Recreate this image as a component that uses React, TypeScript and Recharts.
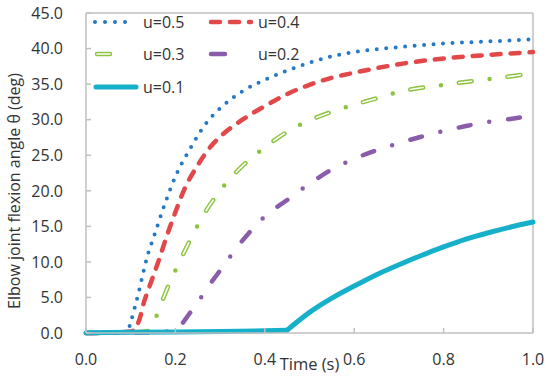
import { LineChart, Line, XAxis, YAxis, ReferenceLine } from 'recharts'

// time axis (s) and elbow angle (deg) per u value
const timeU05 = [0, 0.05, 0.09, 0.095, 0.1, 0.11, 0.12, 0.13, 0.14, 0.15, 0.17, 0.2, 0.23, 0.27, 0.3, 0.35, 0.4, 0.45, 0.5, 0.55, 0.6, 0.7, 0.8, 0.9, 1.0]
const angleU05 = [0, 0.05, 0.1, 0.5, 1.5, 3.8, 6.3, 9, 11.4, 13.2, 17, 22, 25.6, 29.6, 31.6, 34, 35.6, 36.9, 38, 38.9, 39.5, 40.2, 40.7, 41.0, 41.3]

const timeU04 = [0, 0.05, 0.1, 0.11, 0.12, 0.13, 0.14, 0.16, 0.18, 0.2, 0.22, 0.25, 0.28, 0.3, 0.35, 0.4, 0.45, 0.5, 0.55, 0.6, 0.7, 0.8, 0.9, 1.0]
const angleU04 = [0, 0.05, 0.2, 0.6, 2, 4.4, 6.2, 9.7, 13.5, 17, 20.2, 23.6, 26.3, 27.6, 30, 31.9, 33.6, 34.9, 35.9, 36.6, 37.8, 38.6, 39.1, 39.5]

const timeU03 = [0, 0.1, 0.14, 0.15, 0.16, 0.18, 0.2, 0.23, 0.26, 0.3, 0.35, 0.4, 0.45, 0.5, 0.55, 0.6, 0.65, 0.7, 0.8, 0.9, 1.0]
const angleU03 = [0, 0.1, 0.3, 1.2, 2.8, 6, 8.8, 12.7, 16.3, 20, 23.5, 26.1, 28.3, 29.9, 31.1, 32.1, 33.0, 33.9, 34.9, 35.7, 36.5]

const timeU02 = [0, 0.15, 0.19, 0.2, 0.21, 0.23, 0.25, 0.27, 0.3, 0.35, 0.4, 0.45, 0.5, 0.55, 0.6, 0.65, 0.7, 0.75, 0.8, 0.85, 0.9, 0.95, 1.0]
const angleU02 = [0, 0.1, 0.3, 0.6, 1.0, 2.6, 4.3, 6.2, 8.8, 13, 16.4, 18.7, 21, 23, 24.5, 25.7, 26.7, 27.6, 28.4, 29.1, 29.7, 30.1, 30.6]

// u=0.1 stays flat until the kink at 0.45 s, then rises
const timeU01 = [0, 0.1, 0.2, 0.3, 0.4, 0.45, 0.5, 0.55, 0.6, 0.65, 0.7, 0.75, 0.8, 0.85, 0.9, 0.95, 1.0]
const angleU01 = [0.05, 0.1, 0.15, 0.2, 0.3, 0.4, 2.9, 4.9, 6.6, 8.2, 9.6, 10.9, 12.1, 13.2, 14.1, 14.9, 15.6]
const kinkU01 = 5

const xTicks = [0, 0.2, 0.4, 0.6, 0.8, 1.0]
const yTicks = [0, 5, 10, 15, 20, 25, 30, 35, 40, 45]

const toPoints = (t: number[], v: number[]) => t.map((x, i) => ({ t: x, v: v[i] }))

const FONT = '"Open Sans", sans-serif'
const AXIS = '#BFBFBF'
const TEXT = '#333333'

const BLUE = '#2478C6'
const RED = '#E2474A'
const GREEN = '#8CC43F'
const PURPLE = '#8A5CAA'
const CYAN = '#17B0CA'

function XTick({ x, y, payload }: any) {
  return (
    <g>
      <line x1={x} x2={x} y1={y} y2={y - 5} stroke={AXIS} strokeWidth={1.5} />
      <text x={x} y={y + 32} textAnchor="middle" fontFamily={FONT} fontSize={16} fill={TEXT}>
        {Number(payload.value).toFixed(1)}
      </text>
    </g>
  )
}

function YTick({ x, y, payload }: any) {
  return (
    <g>
      <line x1={x} x2={x + 5} y1={y} y2={y} stroke={AXIS} strokeWidth={1.5} />
      <text x={x - 23} y={y} dy="0.36em" textAnchor="end" fontFamily={FONT} fontSize={16} fill={TEXT}>
        {Number(payload.value).toFixed(1)}
      </text>
    </g>
  )
}

function LegendOverlay() {
  const label = (x: number, y: number, s: string) => (
    <text x={x} y={y} dy="0.36em" fontFamily={FONT} fontSize={16} fill={TEXT}>{s}</text>
  )
  return (
    <svg width={550} height={110} style={{ position: 'absolute', left: 0, top: 0, pointerEvents: 'none' }}>
      {/* u=0.5 */}
      <line x1={95} x2={135} y1={22} y2={22} stroke={BLUE} strokeWidth={4} strokeLinecap="round" strokeDasharray="0 10" />
      {label(143, 22, 'u=0.5')}
      {/* u=0.4 */}
      <line x1={211} x2={251} y1={22} y2={22} stroke={RED} strokeWidth={4.5} strokeLinecap="round" strokeDasharray="9 10" />
      {label(258, 22, 'u=0.4')}
      {/* u=0.3 */}
      <line x1={97} x2={129} y1={54} y2={54} stroke={GREEN} strokeWidth={4.5} strokeLinecap="round" strokeDasharray="13 19 0 100" />
      <line x1={97} x2={110} y1={54} y2={54} stroke="#fff" strokeWidth={1.6} strokeLinecap="round" />
      {label(143, 54, 'u=0.3')}
      {/* u=0.2 */}
      <line x1={211} x2={244} y1={54} y2={54} stroke={PURPLE} strokeWidth={4.5} strokeLinecap="round" strokeDasharray="14 19 0 100" />
      {label(258, 54, 'u=0.2')}
      {/* u=0.1 */}
      <line x1={96} x2={136} y1={87} y2={87} stroke={CYAN} strokeWidth={5} strokeLinecap="round" />
      {label(143, 87, 'u=0.1')}
    </svg>
  )
}

export default function App() {
  const green = toPoints(timeU03, angleU03)
  const cyan = toPoints(timeU01, angleU01)
  return (
    <div style={{ position: 'absolute', left: 0, top: 0, width: 550, height: 383, background: '#fff' }}>
      <LineChart width={550} height={383} margin={{ top: 13, right: 17, left: 0, bottom: 0 }}>
        <XAxis
          dataKey="t"
          type="number"
          domain={[0, 1]}
          ticks={xTicks}
          height={50}
          tickSize={0}
          tickMargin={0}
          tickLine={false}
          axisLine={{ stroke: AXIS, strokeWidth: 1.5 }}
          tick={<XTick />}
          label={{ value: 'Time (s)', position: 'insideBottom', offset: 13, fontFamily: FONT, fontSize: 16.5, fill: TEXT }}
        />
        <YAxis
          type="number"
          domain={[0, 45]}
          ticks={yTicks}
          width={86}
          tickSize={0}
          tickMargin={0}
          tickLine={false}
          axisLine={{ stroke: AXIS, strokeWidth: 1.5 }}
          tick={<YTick />}
          label={{
            content: () => (
              <text
                x={14}
                y={191}
                transform="rotate(-90 14 191)"
                textAnchor="middle"
                dominantBaseline="central"
                fontFamily={FONT}
                fontSize={16}
                fill={TEXT}
              >
                Elbow joint flexion angle θ (deg)
              </text>
            ),
          }}
        />
        <ReferenceLine y={45} stroke={AXIS} strokeWidth={1.5} />
        <ReferenceLine x={1} stroke={AXIS} strokeWidth={1.5} />

        <Line data={toPoints(timeU05, angleU05)} dataKey="v" type="monotone" stroke={BLUE} strokeWidth={4}
          strokeLinecap="round" strokeDasharray="0 9.5" dot={false} isAnimationActive={false} />
        <Line data={toPoints(timeU04, angleU04)} dataKey="v" type="monotone" stroke={RED} strokeWidth={4.5}
          strokeLinecap="round" strokeDasharray="9 10" dot={false} isAnimationActive={false} />
        <Line data={green} dataKey="v" type="monotone" stroke={GREEN} strokeWidth={4.5}
          strokeLinecap="round" strokeDasharray="13 18 0 18" dot={false} isAnimationActive={false} />
        <Line data={green} dataKey="v" type="monotone" stroke="#ffffff" strokeWidth={1.6}
          strokeLinecap="round" strokeDasharray="13 36" dot={false} isAnimationActive={false} />
        <Line data={toPoints(timeU02, angleU02)} dataKey="v" type="monotone" stroke={PURPLE} strokeWidth={4.5}
          strokeLinecap="round" strokeDasharray="12 19 0 19" dot={false} isAnimationActive={false} />
        <Line data={cyan.slice(0, kinkU01 + 1)} dataKey="v" type="linear" stroke={CYAN} strokeWidth={5}
          strokeLinecap="round" dot={false} isAnimationActive={false} />
        <Line data={cyan.slice(kinkU01)} dataKey="v" type="monotone" stroke={CYAN} strokeWidth={5}
          strokeLinecap="round" dot={false} isAnimationActive={false} />
      </LineChart>
      <LegendOverlay />
    </div>
  )
}
